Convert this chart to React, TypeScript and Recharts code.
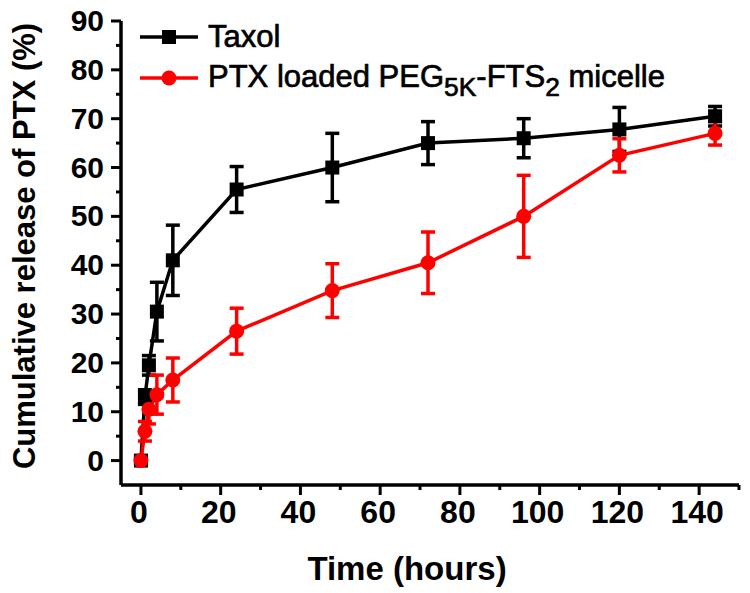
import { LineChart, Line, XAxis, YAxis, ErrorBar, Legend } from "recharts";

document.body.style.margin = "0";

const times = [0, 1, 2, 4, 8, 24, 48, 72, 96, 120, 144];
const taxol = [0, 13, 19.5, 30.5, 41, 55.5, 60, 65, 66, 67.8, 70.5];
const taxolErr = [0.5, 1.5, 2, 6, 7.2, 4.7, 7, 4.4, 4, 4.5, 2];
const micelle = [0, 6, 10.5, 13.5, 16.5, 26.5, 34.8, 40.5, 50, 62.5, 67];
const micelleErr = [0.5, 2, 3, 4, 4.5, 4.7, 5.5, 6.3, 8.4, 3.4, 2.4];

const xTicks = [0, 10, 20, 30, 40, 50, 60, 70, 80, 90, 100, 110, 120, 130, 140, 150];
const yTicks = [0, 5, 10, 15, 20, 25, 30, 35, 40, 45, 50, 55, 60, 65, 70, 75, 80, 85, 90];

const data = times.map((t, i) => ({
  t,
  taxol: taxol[i],
  taxolErr: taxolErr[i],
  micelle: micelle[i],
  micelleErr: micelleErr[i],
}));

const FONT = "'Liberation Sans', Arial, sans-serif";
const NARROW = "'Liberation Sans Narrow', 'Arial Narrow', 'Liberation Sans', sans-serif";

function XTick({ x, y, payload }: any) {
  const major = payload.value % 20 === 0 && payload.value <= 140;
  return (
    <g>
      <line x1={x} x2={x} y1={y} y2={y + (major ? 10 : 5)} stroke="#000" strokeWidth={3} />
      {major && (
        <text x={x - 2} y={y + 38} textAnchor="middle" fontFamily={NARROW} fontWeight="bold" fontSize={32} fill="#000">
          {payload.value}
        </text>
      )}
    </g>
  );
}

function YTick({ x, y, payload }: any) {
  const major = payload.value % 10 === 0;
  return (
    <g>
      <line x1={x - (major ? 10 : 5)} x2={x} y1={y} y2={y} stroke="#000" strokeWidth={3} />
      {major && (
        <text x={x - 17} y={y + 10} textAnchor="end" fontFamily={FONT} fontWeight="bold" fontSize={30} fill="#000">
          {payload.value}
        </text>
      )}
    </g>
  );
}

function YTitle({ viewBox }: any) {
  const cx = 24;
  const cy = viewBox.y + viewBox.height / 2 - 7;
  return (
    <text
      x={cx}
      y={cy}
      transform={`rotate(-90 ${cx} ${cy})`}
      textAnchor="middle"
      dominantBaseline="central"
      fontFamily={FONT}
      fontWeight="bold"
      fontSize={31}
      fill="#000"
    >
      Cumulative release of PTX (%)
    </text>
  );
}

function XTitle({ viewBox }: any) {
  const cx = viewBox.x + viewBox.width / 2 - 23;
  return (
    <text x={cx} y={580} textAnchor="middle" fontFamily={FONT} fontWeight="bold" fontSize={33} fill="#000">
      Time (hours)
    </text>
  );
}

const renderSquare = (p: any) => (
  <rect key={`sq-${p.index}`} x={p.cx - 7} y={p.cy - 7} width={14} height={14} fill="#000" />
);

const renderCircle = (p: any) => (
  <circle key={`ci-${p.index}`} cx={p.cx} cy={p.cy} r={7.5} fill="#ff0000" />
);

function LegendBox() {
  const sub = { fontSize: "0.85em", position: "relative" as const, top: 9 };
  const row = { display: "flex", alignItems: "center", height: 41 };
  return (
    <div
      style={{
        fontFamily: FONT,
        fontWeight: "normal",
        fontSize: 31,
        color: "#000",
        lineHeight: "41px",
        WebkitTextStroke: "0.7px #000",
        whiteSpace: "nowrap",
      }}
    >
      <div style={row}>
        <svg width={58} height={20} style={{ marginRight: 10 }}>
          <line x1={0} x2={58} y1={10} y2={10} stroke="#000" strokeWidth={3.5} />
          <rect x={22} y={3} width={14} height={14} fill="#000" />
        </svg>
        <span>Taxol</span>
      </div>
      <div style={row}>
        <svg width={58} height={20} style={{ marginRight: 10 }}>
          <line x1={0} x2={58} y1={10} y2={10} stroke="#ff0000" strokeWidth={3.5} />
          <circle cx={29} cy={10} r={7.5} fill="#ff0000" />
        </svg>
        <span>
          PTX loaded PEG<span style={sub}>5K</span>-FTS<span style={sub}>2</span> micelle
        </span>
      </div>
    </div>
  );
}

export default function App() {
  return (
    <div style={{ width: 750, height: 593, background: "#fff" }}>
      <LineChart width={750} height={593} data={data} margin={{ top: 21, right: 11, left: 0, bottom: 0 }}>
        <XAxis
          dataKey="t"
          type="number"
          domain={[-5, 150]}
          ticks={xTicks}
          interval={0}
          height={108}
          tickSize={0}
          tickMargin={0}
          tickLine={false}
          tick={<XTick />}
          axisLine={{ stroke: "#000", strokeWidth: 3.5 }}
          label={<XTitle />}
        />
        <YAxis
          type="number"
          domain={[-5, 90]}
          ticks={yTicks}
          interval={0}
          width={121}
          tickSize={0}
          tickMargin={0}
          tickLine={false}
          tick={<YTick />}
          axisLine={{ stroke: "#000", strokeWidth: 3.5 }}
          label={<YTitle />}
        />
        <Legend
          verticalAlign="middle"
          align="center"
          content={<LegendBox />}
          wrapperStyle={{ top: 16, left: 140, width: "auto" }}
        />
        <Line
          dataKey="taxol"
          stroke="#000"
          strokeWidth={3.5}
          dot={renderSquare}
          activeDot={false}
          isAnimationActive={false}
        >
          <ErrorBar dataKey="taxolErr" direction="y" width={7} strokeWidth={3.5} stroke="#000" />
        </Line>
        <Line
          dataKey="micelle"
          stroke="#ff0000"
          strokeWidth={3.5}
          dot={renderCircle}
          activeDot={false}
          isAnimationActive={false}
        >
          <ErrorBar dataKey="micelleErr" direction="y" width={7} strokeWidth={3.5} stroke="#ff0000" />
        </Line>
      </LineChart>
    </div>
  );
}
